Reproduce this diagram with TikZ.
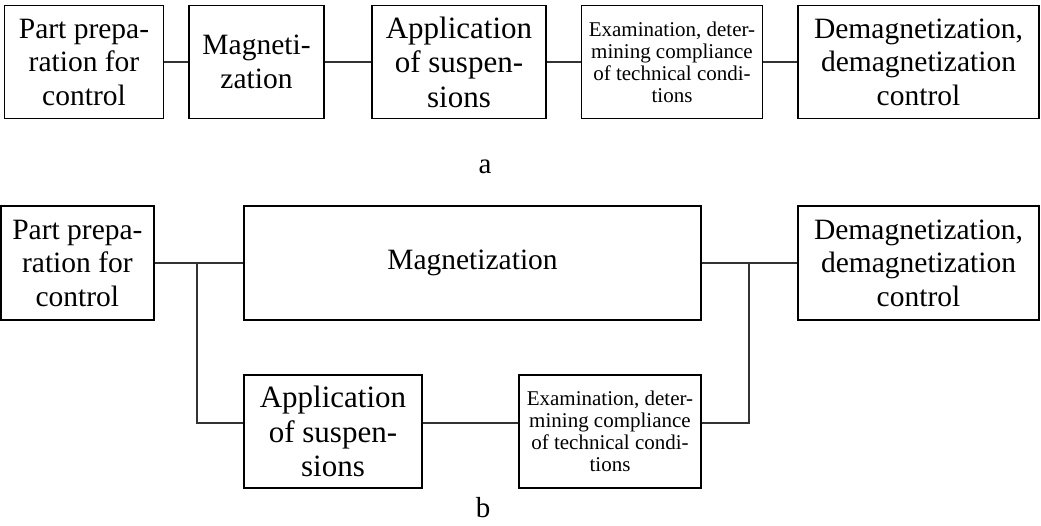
\documentclass[tikz,border=0pt]{standalone}
\usepackage{fontspec}
\setmainfont{Liberation Serif}
\begin{document}
\begin{tikzpicture}[x=1pt,y=-1pt,
  blk/.style={draw=black, line width=1.5pt, inner sep=0pt, align=center},
  big/.style={font=\fontsize{29.5}{33.5}\selectfont},
  app/.style={font=\fontsize{31}{34.5}\selectfont},
  small/.style={font=\fontsize{21}{22}\selectfont},
  wire/.style={draw=black!80, line width=1.2pt},
  caption/.style={font=\fontsize{29}{33}\selectfont, inner sep=0pt, anchor=base}]
\useasboundingbox (0,0) rectangle (1041,525);

% (a) sequential scheme
\node[blk, big, minimum width=159pt, minimum height=113pt] (a1) at (84,62)
  {Part prepa-\\ration for\\control};
\node[blk, big, minimum width=135pt, minimum height=113pt] (a2) at (256.5,62)
  {Magneti-\\zation};
\node[blk, app, minimum width=174pt, minimum height=113pt] (a3) at (459,62)
  {Application\\of suspen-\\sions};
\node[blk, small, minimum width=181pt, minimum height=113pt] (a4) at (672,62)
  {Examination, deter-\\mining compliance\\of technical condi-\\tions};
\node[blk, big, minimum width=241pt, minimum height=113pt] (a5) at (918.5,62)
  {Demagnetization,\\demagnetization\\control};
\draw[wire] (a1.east) -- (a2.west);
\draw[wire] (a2.east) -- (a3.west);
\draw[wire] (a3.east) -- (a4.west);
\draw[wire] (a4.east) -- (a5.west);
\node[caption] (capa) at (485,173) {a};

% (b) parallel scheme
\node[blk, big, minimum width=153.2pt, minimum height=114pt] (b1) at (77.4,263)
  {Part prepa-\\ration for\\control};
\node[blk, big, minimum width=457pt, minimum height=114pt] (b2) at (472.5,263)
  {Magnetization};
\node[blk, big, minimum width=241pt, minimum height=114pt] (b3) at (918.5,263)
  {Demagnetization,\\demagnetization\\control};
\node[blk, app, minimum width=178pt, minimum height=113pt] (b4) at (333,431.5)
  {Application\\of suspen-\\sions};
\node[blk, small, minimum width=182pt, minimum height=113pt] (b5) at (610,431.5)
  {Examination, deter-\\mining compliance\\of technical condi-\\tions};

\coordinate (jl) at (197,263);
\coordinate (jr) at (749,263);
\coordinate (low) at (0,423);
\draw[wire] (b1.east) -- (b2.west);
\draw[wire] (b2.east) -- (b3.west);
\draw[wire] (jl) -- (jl |- low) -- (b4.west |- low);
\draw[wire] (b4.east |- low) -- (b5.west |- low);
\draw[wire] (b5.east |- low) -- (jr |- low) -- (jr);
\node[caption] (capb) at (483,517) {b};
\end{tikzpicture}
\end{document}
